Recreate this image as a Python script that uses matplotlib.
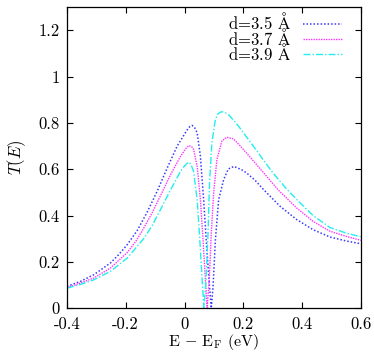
import matplotlib
matplotlib.use("Agg")
import matplotlib.pyplot as plt

plt.rcParams["font.family"] = "cmr10"
plt.rcParams["mathtext.fontset"] = "cm"
plt.rcParams["axes.unicode_minus"] = False

# values
labels = [r"d=3.5 $\mathrm{\AA}$", r"d=3.7 $\mathrm{\AA}$", r"d=3.9 $\mathrm{\AA}$"]

e_35 = [-0.4, -0.355, -0.309, -0.252, -0.224, -0.195, -0.161, -0.127, -0.093, -0.059,
        -0.025, 0.009, 0.018, 0.026, 0.034, 0.043, 0.054, 0.065, 0.076, 0.085, 0.091,
        0.097, 0.105, 0.116, 0.133, 0.149, 0.168, 0.194, 0.211, 0.24, 0.268, 0.3,
        0.324, 0.381, 0.437, 0.495, 0.55, 0.6]
t_35 = [0.094, 0.115, 0.144, 0.195, 0.231, 0.274, 0.335, 0.415, 0.505, 0.605,
        0.70, 0.77, 0.784, 0.789, 0.780, 0.757, 0.656, 0.468, 0.251, 0.092, 0.0,
        0.092, 0.295, 0.468, 0.555, 0.601, 0.612, 0.598, 0.584, 0.552, 0.513, 0.472,
        0.441, 0.383, 0.339, 0.307, 0.29, 0.278]

e_37 = [-0.4, -0.355, -0.309, -0.252, -0.195, -0.165, -0.139, -0.11, -0.082, -0.048,
        -0.014, 0.005, 0.015, 0.024, 0.031, 0.043, 0.054, 0.063, 0.071, 0.077, 0.084,
        0.091, 0.099, 0.110, 0.127, 0.144, 0.166, 0.19, 0.234, 0.268, 0.319, 0.381,
        0.437, 0.495, 0.55, 0.6]
t_37 = [0.089, 0.108, 0.130, 0.173, 0.24, 0.29, 0.345, 0.412, 0.485, 0.575,
        0.655, 0.69, 0.702, 0.698, 0.685, 0.612, 0.468, 0.295, 0.121, 0.0, 0.121,
        0.324, 0.497, 0.641, 0.721, 0.738, 0.731, 0.70, 0.636, 0.586, 0.51, 0.433,
        0.375, 0.332, 0.31, 0.293]

e_39 = [-0.4, -0.355, -0.309, -0.252, -0.195, -0.139, -0.11, -0.082, -0.048, -0.014,
        0.0, 0.01, 0.016, 0.022, 0.031, 0.043, 0.052, 0.060, 0.066, 0.073, 0.080,
        0.085, 0.093, 0.105, 0.113, 0.121, 0.128, 0.136, 0.15, 0.175, 0.2, 0.234,
        0.268, 0.3, 0.347, 0.381, 0.437, 0.495, 0.55, 0.6]
t_39 = [0.086, 0.102, 0.122, 0.159, 0.216, 0.30, 0.357, 0.425, 0.51, 0.59,
        0.614, 0.627, 0.63, 0.62, 0.59, 0.468, 0.295, 0.121, 0.0, 0.121, 0.324,
        0.54, 0.714, 0.815, 0.838, 0.846, 0.848, 0.846, 0.835, 0.80, 0.758, 0.70,
        0.64, 0.585, 0.515, 0.47, 0.40, 0.348, 0.324, 0.308]

x_ticks = [-0.4, -0.2, 0, 0.2, 0.4, 0.6]
x_tick_labels = ["-0.4", "-0.2", "0", "0.2", "0.4", "0.6"]
y_ticks = [0, 0.2, 0.4, 0.6, 0.8, 1, 1.2]
y_tick_labels = ["0", "0.2", "0.4", "0.6", "0.8", "1", "1.2"]


def main() -> None:
    fig = plt.figure(figsize=(3.74, 3.55), dpi=100)
    ax = fig.add_axes([0.179, 0.132, 0.786, 0.848])

    ax.plot(e_35, t_35, color="#3a3aff", lw=1.1, linestyle=(0, (1, 1.3)), label=labels[0])
    ax.plot(e_37, t_37, color="#ff33ff", lw=1.0, linestyle=(0, (1, 0.8)), label=labels[1])
    ax.plot(e_39, t_39, color="#22eeee", lw=1.0, linestyle=(0, (5, 1.5, 1, 1.5)), label=labels[2])

    ax.set_xlim(-0.4, 0.6)
    ax.set_ylim(0, 1.3)
    ax.set_xticks(x_ticks)
    ax.set_xticklabels(x_tick_labels)
    ax.set_yticks(y_ticks)
    ax.set_yticklabels(y_tick_labels)
    ax.tick_params(axis="both", direction="in", length=4, width=0.8, top=True, right=True,
                   labelsize=12)
    ax.tick_params(axis="x", pad=6)
    ax.tick_params(axis="y", pad=5)
    for side in ax.spines.values():
        side.set_linewidth(0.9)

    ax.set_xlabel(r"E $-$ E$_\mathrm{F}$ (eV)", fontsize=11.5, labelpad=0)
    ax.set_ylabel(r"$T(E)$", fontsize=12, labelpad=8)

    ax.legend(loc="upper right", bbox_to_anchor=(0.982, 1.03), frameon=False,
              markerfirst=False, fontsize=12, handlelength=2.34,
              handletextpad=0.75, labelspacing=-0.35, borderpad=0.3)

    fig.savefig("out.png", dpi=100)
    plt.close(fig)


if __name__ == "__main__":
    main()
